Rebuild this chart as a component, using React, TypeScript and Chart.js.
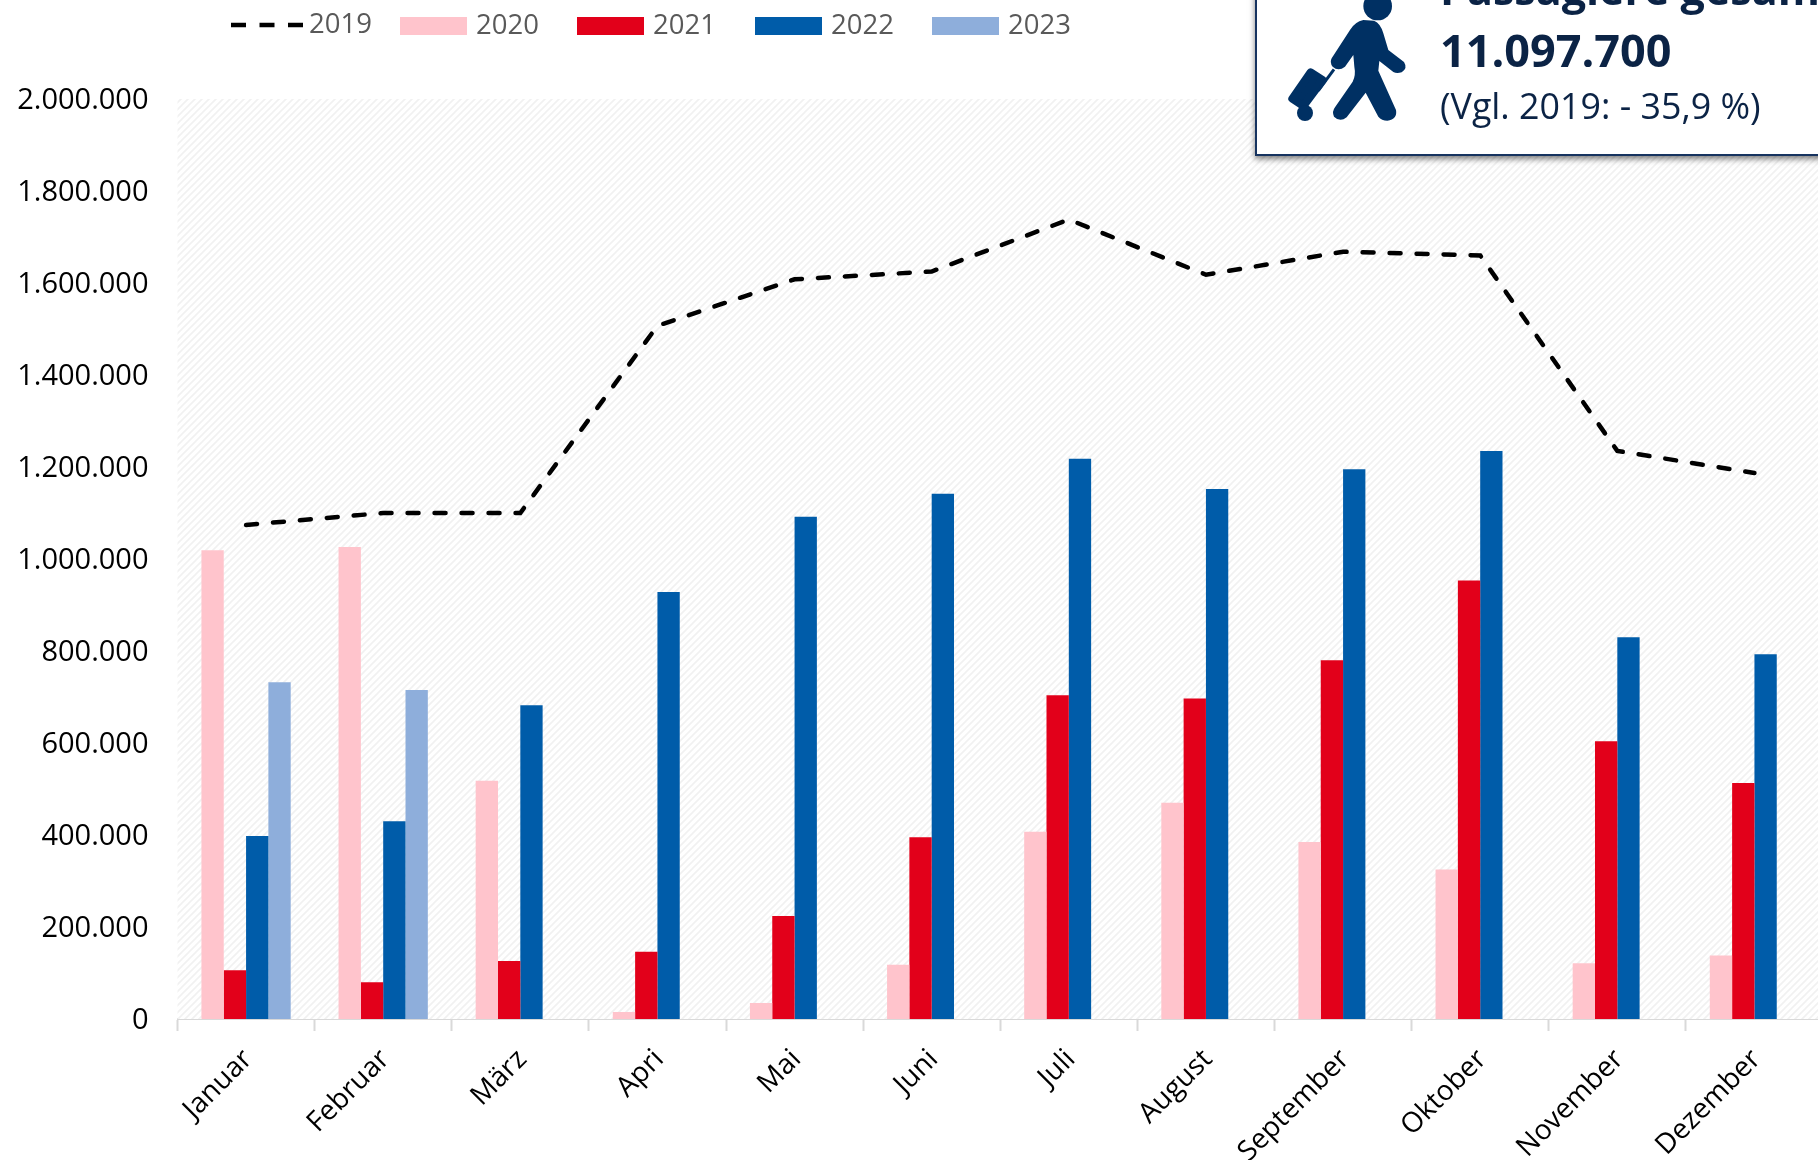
import React, { useEffect, useRef } from "react";
import { Chart, registerables } from "chart.js";

Chart.register(...registerables);

const months = ["Januar", "Februar", "März", "Apri", "Mai", "Juni", "Juli", "August", "September", "Oktober", "November", "Dezember"];
const y2019 = [1074000, 1100000, 1100000, 1507000, 1608000, 1625000, 1738000, 1618000, 1668000, 1660000, 1235000, 1187000];
const y2020 = [1019000, 1026000, 518000, 15000, 35000, 118000, 407000, 470000, 385000, 325000, 121000, 138000];
const y2021 = [106000, 80000, 126000, 146000, 224000, 395000, 704000, 697000, 780000, 953000, 604000, 513000];
const y2022 = [398000, 430000, 682000, 928000, 1092000, 1142000, 1218000, 1152000, 1195000, 1235000, 830000, 793000];
const y2023 = [732000, 715000, null, null, null, null, null, null, null, null, null, null];

const FONT = '"Open Sans", sans-serif';

const hatch = {
  id: "hatch",
  beforeDatasetsDraw(chart: any) {
    const { ctx, chartArea: a } = chart;
    const tile = document.createElement("canvas");
    tile.width = 7;
    tile.height = 7;
    const t = tile.getContext("2d")!;
    t.fillStyle = "#ffffff";
    t.fillRect(0, 0, 7, 7);
    t.strokeStyle = "#f1f1f1";
    t.lineWidth = 1.6;
    for (const o of [-7, 0, 7]) {
      t.beginPath();
      t.moveTo(o - 1, 8);
      t.lineTo(o + 8, -1);
      t.stroke();
    }
    ctx.save();
    ctx.fillStyle = ctx.createPattern(tile, "repeat");
    ctx.fillRect(a.left, a.top, a.right - a.left, a.bottom - a.top);
    ctx.restore();
  },
};

const topLegend = {
  id: "topLegend",
  afterDraw(chart: any) {
    const { ctx } = chart;
    const xs = [231, 400, 577, 755, 932];
    ctx.save();
    ctx.font = `27.5px ${FONT}`;
    ctx.textBaseline = "middle";
    ctx.textAlign = "left";
    chart.data.datasets.forEach((d: any, i: number) => {
      const isLine = d.type === "line";
      if (isLine) {
        ctx.strokeStyle = d.borderColor;
        ctx.lineWidth = 4.5;
        ctx.setLineDash([15, 13.5]);
        ctx.lineCap = "butt";
        ctx.beginPath();
        ctx.moveTo(xs[i], 25);
        ctx.lineTo(xs[i] + 72, 25);
        ctx.stroke();
        ctx.setLineDash([]);
      } else {
        ctx.fillStyle = d.backgroundColor;
        ctx.fillRect(xs[i], 17, 67, 18);
      }
      ctx.fillStyle = "#595959";
      ctx.fillText(d.label, isLine ? xs[i] + 78 : xs[i] + 76, isLine ? 25 : 26.5);
    });
    ctx.restore();
  },
};

function Luggage() {
  const c = "#003063";
  return (
    <svg
      width={160}
      height={135}
      viewBox="0 0 480 405"
      style={{ position: "absolute", left: 1250, top: 0 }}
    >
      <circle cx={383} cy={18} r={43} fill={c} />
      <path
        fill={c}
        d="M340 60 L372 62 Q392 70 400 100 L415 150 L462 186 Q474 205 455 217 Q440 222 430 216 L388 183 L385 212 L438 330 Q443 358 412 362 Q395 362 385 350 L347 278 L290 352 Q270 368 252 350 Q245 335 255 322 L308 245 Q318 225 313 200 L310 165 L285 200 Q265 215 248 200 Q238 188 245 175 L300 90 Q315 65 340 60 Z"
      />
      <path
        fill={c}
        stroke={c}
        strokeWidth={24}
        strokeLinejoin="round"
        d="M182 217 L218 240 L160 318 L127 296 Z"
      />
      <path stroke={c} strokeWidth={9} d="M252 208 L205 272" />
      <circle cx={165} cy={339} r={24} fill={c} />
    </svg>
  );
}

export default function App() {
  const ref = useRef<HTMLCanvasElement>(null);

  useEffect(() => {
    document.body.style.margin = "0";
    const chart = new Chart(ref.current!, {
      type: "bar",
      data: {
        labels: months,
        datasets: [
          {
            type: "line",
            label: "2019",
            data: y2019,
            borderColor: "#000000",
            backgroundColor: "#000000",
            borderWidth: 4.5,
            borderDash: [11, 16],
            borderCapStyle: "round",
            pointRadius: 0,
            tension: 0,
            fill: false,
          } as any,
          { label: "2020", data: y2020, backgroundColor: "#ffc4cc" },
          { label: "2021", data: y2021, backgroundColor: "#e2001a" },
          { label: "2022", data: y2022, backgroundColor: "#005ca9" },
          { label: "2023", data: y2023, backgroundColor: "#8eaedb" },
        ],
      },
      options: {
        responsive: false,
        animation: false,
        devicePixelRatio: 1,
        layout: { padding: { top: 99, left: 0, right: 0, bottom: 0 } },
        datasets: { bar: { categoryPercentage: 0.651, barPercentage: 1 } },
        plugins: { legend: { display: false }, tooltip: { enabled: false } },
        scales: {
          x: {
            offset: true,
            afterFit: (s: any) => {
              s.height = 141;
              s.paddingLeft = 0;
              s.paddingRight = 0;
            },
            grid: {
              offset: true,
              drawOnChartArea: false,
              drawTicks: true,
              tickLength: 12,
              tickColor: "#d9d9d9",
              tickWidth: 2,
            },
            border: { color: "#d9d9d9", width: 2 },
            ticks: {
              autoSkip: false,
              minRotation: 45,
              maxRotation: 45,
              color: "#000000",
              padding: 12,
              labelOffset: 2,
              font: { family: FONT, size: 28 },
            },
          },
          y: {
            min: 0,
            max: 2000000,
            afterFit: (s: any) => {
              s.width = 177.5;
            },
            grid: { display: false },
            border: { display: false },
            ticks: {
              stepSize: 200000,
              color: "#000000",
              padding: 21,
              labelOffset: 2,
              font: { family: FONT, size: 29 },
              callback: (v: any) => Number(v).toLocaleString("de-DE"),
            },
          },
        },
      },
      plugins: [hatch, topLegend],
    });
    return () => chart.destroy();
  }, []);

  const navy = "#0b2345";
  return (
    <div style={{ position: "relative", width: 1818, height: 1160, overflow: "hidden", background: "#fff" }}>
      <canvas ref={ref} width={1823} height={1160} style={{ display: "block", position: "absolute", left: 0, top: 0 }} />
      <div
        style={{
          position: "absolute",
          left: 1255,
          top: -20,
          width: 620,
          height: 176,
          boxSizing: "border-box",
          background: "#fff",
          border: "2.5px solid #16335f",
          boxShadow: "0 3px 6px rgba(0,0,0,0.5)",
        }}
      />
      <Luggage />
      <div style={{ position: "absolute", left: 1440, top: -41, font: `700 43px ${FONT}`, color: navy, whiteSpace: "nowrap" }}>
        Passagiere gesamt
      </div>
      <div style={{ position: "absolute", left: 1440, top: 19, font: `700 45px ${FONT}`, color: navy, whiteSpace: "nowrap" }}>
        11.097.700
      </div>
      <div style={{ position: "absolute", left: 1440, top: 81, font: `400 35.8px ${FONT}`, color: navy, whiteSpace: "nowrap" }}>
        (Vgl. 2019: - 35,9 %)
      </div>
    </div>
  );
}
